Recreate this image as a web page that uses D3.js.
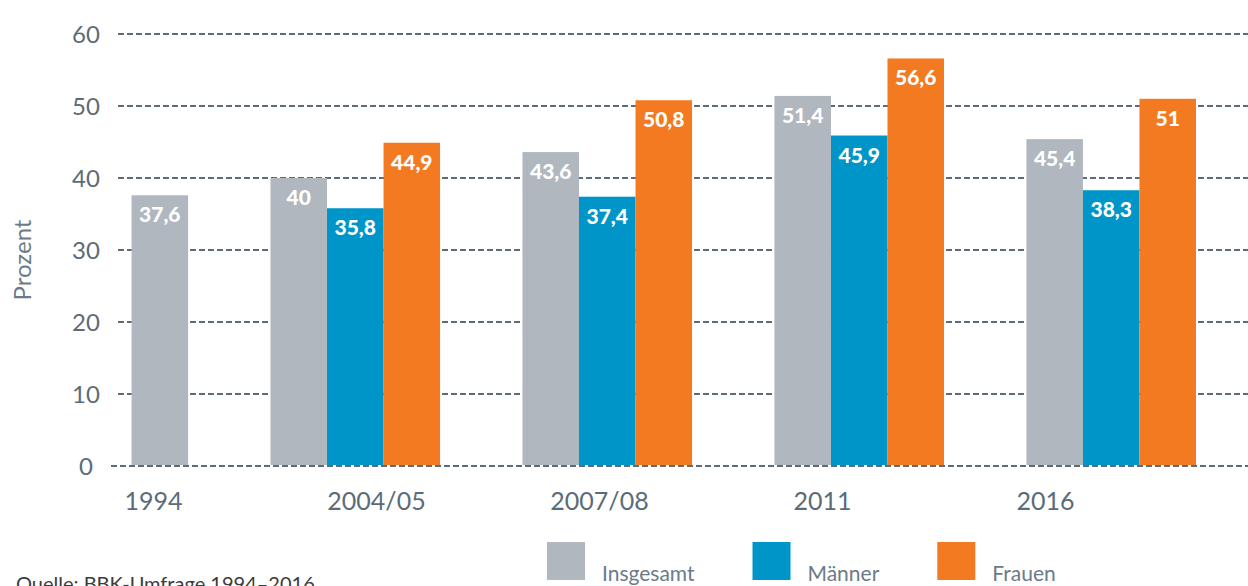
<!DOCTYPE html>
<html>
<head>
<meta charset="utf-8">
<script src="https://cdn.jsdelivr.net/npm/d3@7"></script>
<style>
  html, body { margin: 0; padding: 0; background: #fff; overflow: hidden; }
  svg { display: block; font-family: Lato, "Open Sans", sans-serif; }
</style>
</head>
<body>
<div id="chart"></div>
<script>
// survey waves and series
var waves = ["1994", "2004/05", "2007/08", "2011", "2016"];
var series = ["Insgesamt", "Männer", "Frauen"];
var insgesamt = [37.6, 40, 43.6, 51.4, 45.4];
var maenner = [null, 35.8, 37.4, 45.9, 38.3];
var frauen = [null, 44.9, 50.8, 56.6, 51];
var yTicks = [0, 10, 20, 30, 40, 50, 60];
var yTitle = "Prozent";
var source = "Quelle: BBK-Umfrage 1994–2016";

var colors = {
  "Insgesamt": "#b0b7be",
  "Männer": "#0095c8",
  "Frauen": "#f47a21"
};
var gridColor = "#5d6d78";
var textColor = "#5b6c78";

var width = 1248, height = 586;

var svg = d3.select("#chart").append("svg")
  .attr("width", width)
  .attr("height", height);

// rows for bars
var values = { "Insgesamt": insgesamt, "Männer": maenner, "Frauen": frauen };
var groups = waves.map(function(w, i) {
  var bars = series
    .filter(function(s) { return values[s][i] != null; })
    .map(function(s) { return { wave: w, key: s, value: values[s][i] }; });
  return { wave: w, bars: bars };
});

var y = d3.scaleLinear().domain([0, 60]).range([466, 34]);

// group bands, bars of a group are packed to the right side of the band
var x0 = d3.scaleBand().domain(waves).range([18.5, 1196]).paddingInner(0.327).paddingOuter(0);
var x1 = d3.scaleBand().domain(d3.range(series.length)).range([0, x0.bandwidth()]);

// axis labels are evenly spaced below
var xLabel = d3.scalePoint().domain(waves).range([153, 1045]);

// gridlines
svg.append("g")
  .selectAll("line")
  .data(yTicks)
  .enter().append("line")
    .attr("x1", function(d) { return d === 0 ? 111 : 118; })
    .attr("x2", width)
    .attr("y1", function(d) { return y(d); })
    .attr("y2", function(d) { return y(d); })
    .attr("stroke", gridColor)
    .attr("stroke-width", 2)
    .attr("stroke-dasharray", "6,3");

// y tick labels
svg.append("g")
  .selectAll("text")
  .data(yTicks)
  .enter().append("text")
    .attr("x", 86)
    .attr("y", function(d) { return y(d); })
    .attr("dy", "0.36em")
    .attr("text-anchor", "middle")
    .style("font-size", "24px")
    .style("fill", textColor)
    .text(function(d) { return d; });

// y title
svg.append("text")
  .attr("transform", "translate(31,260) rotate(-90)")
  .attr("text-anchor", "middle")
  .style("font-size", "24px")
  .style("fill", "#6b7b87")
  .text(yTitle);

// bars
var g = svg.selectAll(".group")
  .data(groups)
  .enter().append("g")
    .attr("class", "group")
    .attr("transform", function(d) { return "translate(" + x0(d.wave) + ",0)"; });

function barX(d, i, n) {
  return x1(series.length - n + i);
}

g.each(function(grp) {
  var n = grp.bars.length;
  var sel = d3.select(this);
  sel.selectAll("rect")
    .data(grp.bars)
    .enter().append("rect")
      .attr("x", function(d, i) { return barX(d, i, n); })
      .attr("width", x1.bandwidth())
      .attr("y", function(d) { return y(d.value); })
      .attr("height", function(d) { return y(0) - y(d.value) - 1; })
      .style("fill", function(d) { return colors[d.key]; });

  sel.selectAll("text")
    .data(grp.bars)
    .enter().append("text")
      .attr("x", function(d, i) { return barX(d, i, n) + x1.bandwidth() / 2; })
      .attr("y", function(d) { return y(d.value) + 27; })
      .attr("text-anchor", "middle")
      .style("font-size", "21px")
      .style("font-weight", "900")
      .style("fill", "#fff")
      .text(function(d) { return String(d.value).replace(".", ","); });
});

// x axis labels
var xAxis = svg.append("g")
  .attr("transform", "translate(0,509.5)")
  .call(d3.axisBottom(xLabel).tickSize(0).tickPadding(0));
xAxis.select(".domain").remove();
xAxis.selectAll("text")
  .attr("dy", 0)
  .style("font-family", "Lato, 'Open Sans', sans-serif")
  .style("font-size", "25px")
  .style("fill", textColor);

// legend
var legend = svg.append("g").attr("transform", "translate(547,542)");
var lx = 0;
series.forEach(function(s) {
  var item = legend.append("g").attr("transform", "translate(" + lx + ",0)");
  item.append("rect")
    .attr("width", 38)
    .attr("height", 38)
    .style("fill", colors[s]);
  var t = item.append("text")
    .attr("x", 55)
    .attr("y", 39)
    .style("font-size", "21px")
    .style("fill", "#6b7b87")
    .text(s);
  lx += 55 + t.node().getComputedTextLength() + 58;
});

// source
svg.append("text")
  .attr("x", 16)
  .attr("y", 591)
  .style("font-size", "20px")
  .style("fill", "#3c3c3c")
  .text(source);
</script>
</body>
</html>
